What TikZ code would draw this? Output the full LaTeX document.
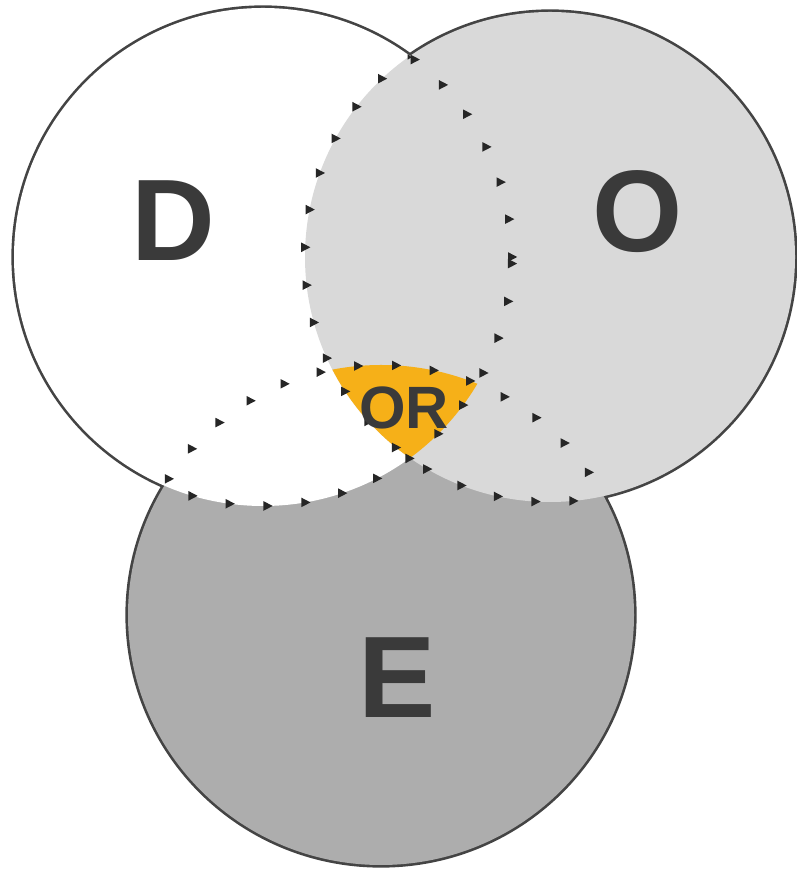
\documentclass[tikz,border=0pt]{standalone}
\usepackage{fontspec}
\setmainfont{Liberation Sans}
\usetikzlibrary{decorations.markings}

\definecolor{ringline}{RGB}{68,68,68}
\definecolor{dotc}{RGB}{38,38,38}
\definecolor{lightO}{RGB}{217,217,217}
\definecolor{darkE}{RGB}{173,173,173}
\definecolor{orOrange}{RGB}{246,176,24}
\definecolor{lettc}{RGB}{58,58,58}

\begin{document}
\begin{tikzpicture}
\tikzstyle{ring}=[draw=ringline,line width=1.5pt]
\tikzstyle{hidden}=[decorate,decoration={markings,
  mark=between positions 0 and 1 step 0.38cm with {\pgftransformresetnontranslations
    \fill[dotc] (-0.04,0.048) -- (0.052,0) -- (-0.04,-0.048) -- cycle;}}]
\tikzstyle{big}=[text=lettc,font=\fontsize{33}{33}\selectfont\bfseries,inner sep=0pt]
\tikzstyle{small}=[text=lettc,font=\fontsize{17}{17}\selectfont\bfseries,inner sep=0pt]

\def\circD{(2.63,6.12) circle (2.49)}
\def\circO{(5.50,6.12) circle (2.45)}
\def\circE{(3.81,2.54) ellipse (2.53 and 2.50)}

\fill[white] (0,0) rectangle (7.96,8.69);
\useasboundingbox (0,0) rectangle (7.96,8.69);

% outlines first, the fills hide the inner arcs
\path[ring] \circE;
\path[ring] \circD;
\path[ring] \circO;

\fill[darkE] \circE;
\fill[white] \circD;
\fill[lightO] \circO;

% D and O and E
\begin{scope}
\clip \circD;
\clip \circO;
\fill[orOrange] \circE;
\end{scope}

% hidden edges
\begin{scope}
\clip \circO \circE;
\path[hidden] \circD;
\end{scope}
\begin{scope}
\clip \circD \circE;
\path[hidden] \circO;
\end{scope}
\begin{scope}
\clip \circD \circO;
\path[hidden] \circE;
\end{scope}

\node[big](labD) at (1.73,6.48) {D};
\node[big](labO) at (6.38,6.57) {O};
\node[big](labE) at (3.97,1.91) {E};
\node[small](labOR) at (4.04,4.61) {OR};
\end{tikzpicture}
\end{document}
